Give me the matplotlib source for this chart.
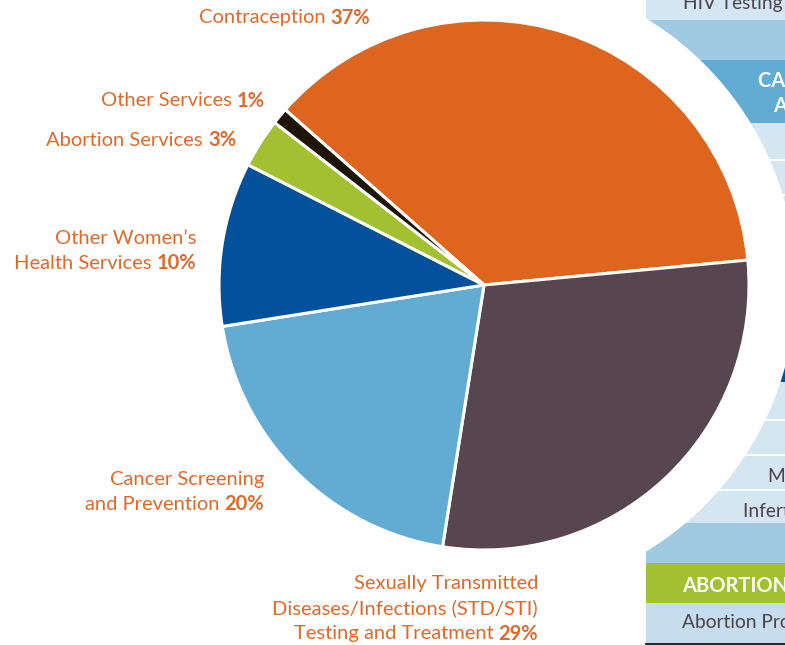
import matplotlib
matplotlib.use("Agg")
import matplotlib.pyplot as plt
from matplotlib.patches import Rectangle, Circle

# ---------------- data ----------------
categories = ["Contraception",
              "Sexually Transmitted Diseases/Infections (STD/STI) Testing and Treatment",
              "Cancer Screening and Prevention",
              "Other Women's Health Services",
              "Abortion Services",
              "Other Services"]
shares = [37, 29, 20, 10, 3, 1]
label_lines = [["Contraception"],
               ["Sexually Transmitted", "Diseases/Infections (STD/STI)", "Testing and Treatment"],
               ["Cancer Screening", "and Prevention"],
               ["Other Women\u2019s", "Health Services"],
               ["Abortion Services"],
               ["Other Services"]]
slice_colors = ["#dd651e", "#574550", "#62acd3", "#03519a", "#a2c02f", "#1e1408"]

table_texts = ["HIV Testing", "CANCER SCREENING", "AND PREVENTION",
               "Menopause Services", "Infertility Services", "ABORTION SERVICES",
               "Abortion Procedures"]

# ---------------- layout ----------------
W, H = 785, 645
fig = plt.figure(figsize=(W / 100, H / 100), dpi=100)
ax = fig.add_axes([0, 0, 1, 1])
FONT = "Lato"
TXT_ORANGE = "#e0692a"
TXT_GRAY = "#4d424b"
FS = 14.5


def Y(y):
    return H - y


LIGHT = "#d4e6f2"
MED = "#9fcae2"
# table background rows (image coords: top, bottom, color)
rows = [(0, 20, LIGHT), (20, 60, MED), (60, 123, "#62acd3"),
        (123, 160, LIGHT), (160, 195, LIGHT), (195, 230, LIGHT), (230, 265, LIGHT),
        (265, 320, MED), (320, 382, "#03519a"),
        (382, 420, LIGHT), (420, 455, LIGHT), (455, 490, LIGHT), (490, 523, LIGHT),
        (523, 563, MED), (563, 603, "#a2c130"), (603, 643, "#c6dded")]
TX = 646
for top, bot, col in rows:
    ax.add_patch(Rectangle((TX, Y(bot)), W - TX + 5, bot - top, facecolor=col,
                           edgecolor="none", zorder=0))
for ys in [160, 195, 230, 420, 455, 490]:
    ax.plot([TX, W + 5], [Y(ys), Y(ys)], color="white", lw=1.3, zorder=0.5)
ax.plot([TX, W + 5], [Y(643.5), Y(643.5)], color="#111111", lw=1.3, zorder=0.5)

tfs = 13.8
bfs = 14.5
ax.text(683, Y(9), table_texts[0], fontsize=tfs, family=FONT, color=TXT_GRAY, va="baseline", zorder=0.6)
ax.text(758, Y(87), table_texts[1], fontsize=bfs, family=FONT, color="white", weight="bold", va="baseline", zorder=0.6)
ax.text(773, Y(112), table_texts[2], fontsize=bfs, family=FONT, color="white", weight="bold", va="baseline", zorder=0.6)
ax.text(768, Y(482), table_texts[3], fontsize=tfs, family=FONT, color=TXT_GRAY, va="baseline", zorder=0.6)
ax.text(743, Y(517), table_texts[4], fontsize=tfs, family=FONT, color=TXT_GRAY, va="baseline", zorder=0.6)
ax.text(682, Y(592), table_texts[5], fontsize=bfs, family=FONT, color="white", weight="bold", va="baseline", zorder=0.6)
ax.text(682, Y(628), table_texts[6], fontsize=tfs, family=FONT, color=TXT_GRAY, va="baseline", zorder=0.6)

# white halo circle around the pie
CX, CY, R = 484, Y(285), 265
ax.add_patch(Circle((CX, CY), 312, facecolor="white", edgecolor="none", zorder=1))

wedges, _ = ax.pie(shares, colors=slice_colors, startangle=138.6, counterclock=False,
                   center=(CX, CY), radius=R,
                   wedgeprops=dict(edgecolor="white", linewidth=2.2, zorder=2))
for w in wedges:
    w.set_zorder(2)

ax.set_xlim(0, W)
ax.set_ylim(0, H)
ax.set_aspect("equal")
ax.axis("off")

# labels: right edge x, first-line center y (image coords)
label_pos = [(370, 18), (538, 583), (264, 479), (196, 238), (236, 140), (265, 101)]
LS = 25.3

fig.canvas.draw()
renderer = fig.canvas.get_renderer()
for lines, val, (xr, y0) in zip(label_lines, shares, label_pos):
    for i, line in enumerate(lines):
        y = y0 + i * LS
        if i == len(lines) - 1:
            tb = ax.text(xr, Y(y), f"{val}%", fontsize=FS, family=FONT, weight="bold",
                         color=TXT_ORANGE, ha="right", va="center", zorder=3)
            wpx = tb.get_window_extent(renderer).width
            ax.text(xr - wpx, Y(y), line + " ", fontsize=FS, family=FONT,
                    color=TXT_ORANGE, ha="right", va="center", zorder=3)
        else:
            ax.text(xr, Y(y), line, fontsize=FS, family=FONT,
                    color=TXT_ORANGE, ha="right", va="center", zorder=3)

fig.savefig("out.png", dpi=100)
